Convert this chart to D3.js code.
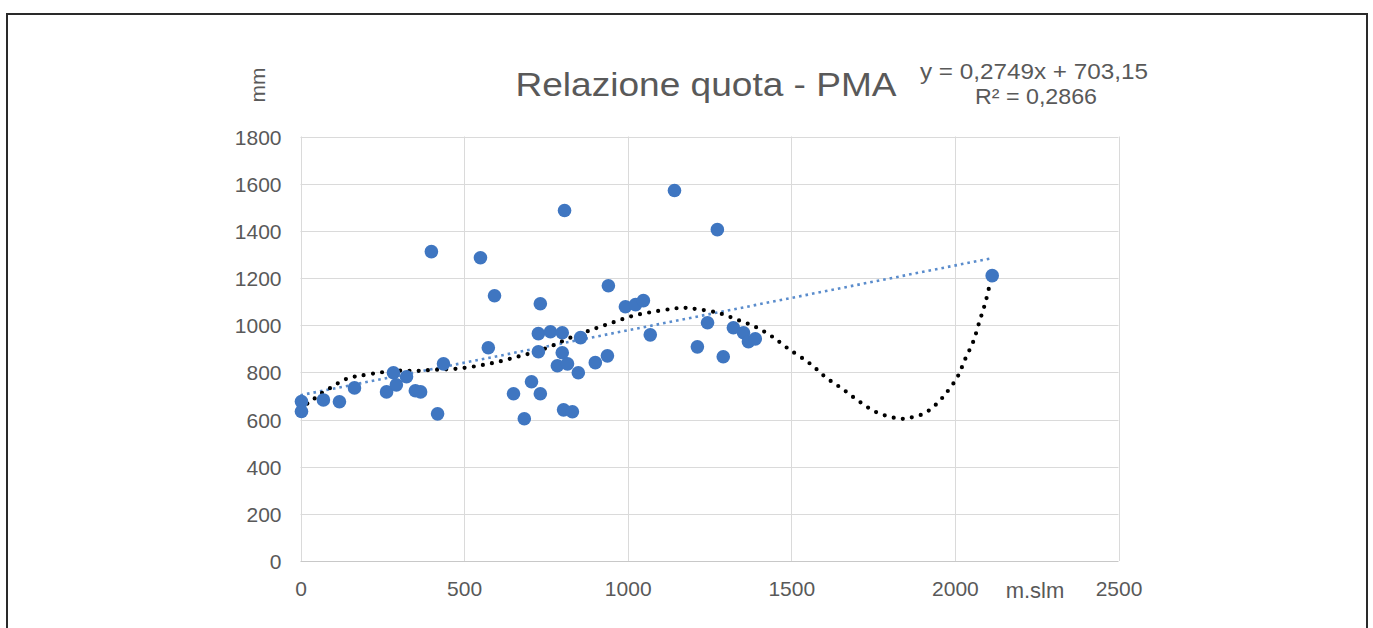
<!DOCTYPE html>
<html>
<head>
<meta charset="utf-8">
<script src="https://cdn.jsdelivr.net/npm/d3@7"></script>
<style>
  html, body { margin: 0; padding: 0; background: #fff; }
  svg { display: block; }
  text { font-family: "Liberation Sans", Arial, sans-serif; fill: #595959; }
</style>
</head>
<body>
<script>
// Altitude (m.slm) of each station
const quota = [3, 3, 70, 119, 165, 263, 284, 293, 324, 351, 367, 400, 419, 437, 550, 593, 574,
  651, 706, 733, 733, 684, 727, 764, 800, 727, 800, 785, 816, 849, 856, 804, 831, 807, 901,
  938, 941, 993, 1024, 1048, 1069, 1143, 1274, 1213, 1244, 1292, 1323, 1354, 1369, 1390, 2114];
// Mean annual precipitation (mm) of each station
const pma = [676, 634, 683, 675, 734, 717, 798, 747, 781, 722, 717, 1312, 624, 836, 1286, 1125, 904,
  709, 760, 1091, 709, 603, 964, 972, 968, 887, 883, 828, 836, 798, 947, 641, 633, 1486, 841,
  870, 1167, 1078, 1087, 1104, 959, 1571, 1405, 908, 1010, 866, 989, 968, 930, 942, 1210];

// Linear trend coefficients
const slope = 0.2749;
const intercept = 703.15;
const r2Label = "R² = 0,2866";

// Polynomial trend curve, sampled along x
const polyX = [0, 24, 46, 70, 98, 122, 150, 180, 238, 290, 351, 412, 474, 544, 605, 663, 718, 770,
  825, 907, 962, 1017, 1079, 1140, 1170, 1201, 1274, 1335, 1390, 1442, 1491, 1558, 1607, 1656,
  1705, 1757, 1815, 1845, 1873, 1904, 1931, 1953, 1974, 2008, 2032, 2056, 2075, 2093, 2108, 2114];
const polyY = [640, 671, 692, 717, 739, 760, 777, 785, 798, 807, 806, 811, 815, 828, 845, 866, 887, 913,
  947, 989, 1015, 1040, 1057, 1070, 1074, 1070, 1053, 1023, 993, 951, 900, 836, 777, 730,
  679, 633, 607, 603, 611, 624, 650, 679, 713, 781, 858, 930, 1015, 1095, 1180, 1210];

const xTicks = [0, 500, 1000, 1500, 2000, 2500];
const yTicks = [0, 200, 400, 600, 800, 1000, 1200, 1400, 1600, 1800];
const xTickLabels = ["0", "500", "1000", "1500", "2000", "2500"];
const yTickLabels = ["0", "200", "400", "600", "800", "1000", "1200", "1400", "1600", "1800"];

const W = 1373, H = 628;
const svg = d3.select("body").append("svg").attr("width", W).attr("height", H);

// outer frame
svg.append("rect").attr("x", 7).attr("y", 14).attr("width", 1360).attr("height", 640)
  .attr("fill", "#fff").attr("stroke", "#2a2a2a").attr("stroke-width", 2);

const x = d3.scaleLinear().domain([0, 2500]).range([300.5, 1118.5]);
const y = d3.scaleLinear().domain([0, 1800]).range([561, 136.5]);

// gridlines
const grid = svg.append("g");
grid.selectAll("line.h").data(yTicks).join("line").attr("class", "h")
  .attr("x1", x(0)).attr("x2", x(2500))
  .attr("y1", d => Math.round(y(d)) + 0.5).attr("y2", d => Math.round(y(d)) + 0.5)
  .attr("stroke", d => d === 0 ? "#c8c8c8" : "#dadada").attr("stroke-width", 1);
grid.selectAll("line.v").data(xTicks).join("line").attr("class", "v")
  .attr("y1", y(0)).attr("y2", y(1800))
  .attr("x1", d => Math.round(x(d)) + 0.5).attr("x2", d => Math.round(x(d)) + 0.5)
  .attr("stroke", "#dadada").attr("stroke-width", 1);

// axis tick labels (no domain/tick lines)
const yAxis = svg.append("g").attr("transform", `translate(${x(0)},0)`)
  .call(d3.axisLeft(y).tickValues(yTicks).tickFormat((d, i) => yTickLabels[i]).tickSize(0).tickPadding(19));
const xAxis = svg.append("g").attr("transform", `translate(0,${y(0)})`)
  .call(d3.axisBottom(x).tickValues(xTicks).tickFormat((d, i) => xTickLabels[i]).tickSize(0).tickPadding(20));
[yAxis, xAxis].forEach(g => {
  g.select(".domain").remove();
  g.selectAll("text").style("font-size", "21px").attr("fill", "#595959")
    .style("font-family", '"Liberation Sans", Arial, sans-serif');
});
yAxis.selectAll("text").attr("dy", "0.36em");

// linear trend line
const lineX0 = 0, lineX1 = d3.max(quota);
svg.append("line")
  .attr("x1", x(lineX0)).attr("y1", y(slope * lineX0 + intercept))
  .attr("x2", x(lineX1)).attr("y2", y(slope * lineX1 + intercept))
  .attr("stroke", "#5a8ccc").attr("stroke-width", 2.6).attr("stroke-dasharray", "2.6 4");

// polynomial trend
const polyPts = polyX.map((v, i) => [v, polyY[i]]);
svg.append("path").datum(polyPts)
  .attr("d", d3.line().x(d => x(d[0])).y(d => y(d[1])).curve(d3.curveCatmullRom))
  .attr("fill", "none").attr("stroke", "#000").attr("stroke-width", 4.2)
  .attr("stroke-linecap", "round").attr("stroke-dasharray", "0 9.2");

// points
svg.append("g").selectAll("circle").data(quota.map((q, i) => [q, pma[i]])).join("circle")
  .attr("cx", d => x(d[0])).attr("cy", d => y(d[1])).attr("r", 6.8)
  .attr("fill", "#3f76c1");

// title
svg.append("text").attr("x", 706).attr("y", 96).attr("text-anchor", "middle")
  .style("font-size", "33px").attr("textLength", 381).attr("lengthAdjust", "spacingAndGlyphs")
  .text("Relazione quota - PMA");

// trendline equation
svg.append("text").attr("x", 1034).attr("y", 79).attr("text-anchor", "middle")
  .style("font-size", "22px").attr("textLength", 228).attr("lengthAdjust", "spacingAndGlyphs")
  .text(`y = ${String(slope).replace(".", ",")}x + ${String(intercept).replace(".", ",")}`);
svg.append("text").attr("x", 1036).attr("y", 104).attr("text-anchor", "middle")
  .style("font-size", "22px").attr("textLength", 122).attr("lengthAdjust", "spacingAndGlyphs")
  .text(r2Label);

// axis units
svg.append("text").attr("transform", "translate(265,85) rotate(-90)").attr("text-anchor", "middle")
  .style("font-size", "21px").text("mm");
svg.append("text").attr("x", 1035).attr("y", 598).attr("text-anchor", "middle")
  .style("font-size", "22px").text("m.slm");
</script>
</body>
</html>
